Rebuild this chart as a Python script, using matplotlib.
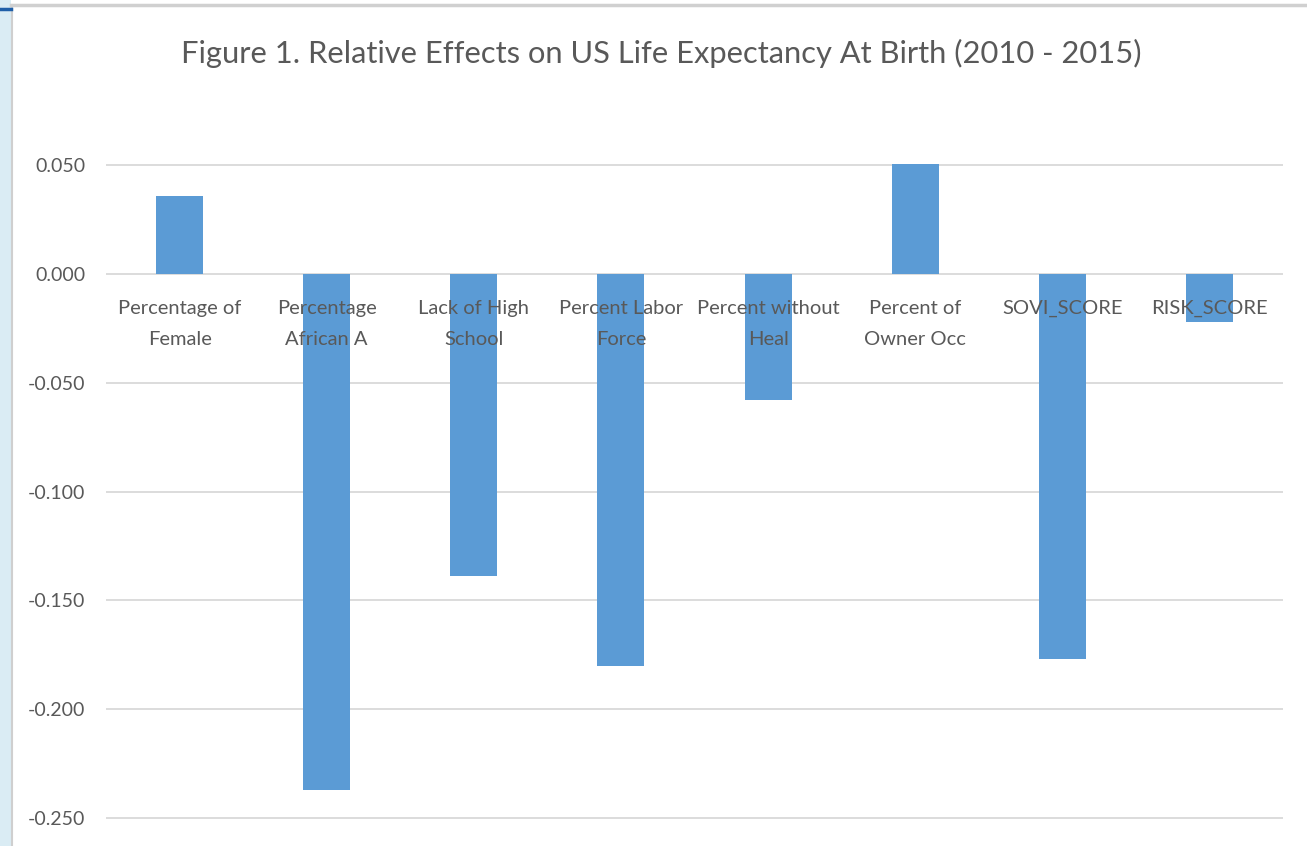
import matplotlib
matplotlib.use("Agg")
import matplotlib.pyplot as plt
from matplotlib.patches import Rectangle
from matplotlib.lines import Line2D

# effect of each county factor on life expectancy at birth
categories = [
    "Percentage of\nFemale",
    "Percentage\nAfrican A",
    "Lack of High\nSchool",
    "Percent Labor\nForce",
    "Percent without\nHeal",
    "Percent of\nOwner Occ",
    "SOVI_SCORE",
    "RISK_SCORE",
]
effects = [0.036, -0.237, -0.139, -0.180, -0.058, 0.051, -0.177, -0.022]
yticks = [0.05, 0.0, -0.05, -0.10, -0.15, -0.20, -0.25]

text_col = "#595959"
grid_col = "#D9D9D9"
bar_col = "#5B9BD5"

plt.rcParams["font.family"] = ["Lato", "DejaVu Sans"]

fig = plt.figure(figsize=(13.07, 8.46), dpi=100)

# window frame around the chart
fig.patches.append(Rectangle((0, 0), 11 / 1307, 1, transform=fig.transFigure,
                             facecolor="#DAECF4", edgecolor="none", zorder=0))
fig.lines.append(Line2D([11.5 / 1307, 11.5 / 1307], [0, 1 - 5 / 846], transform=fig.transFigure,
                        color="#CFCFCF", lw=1.5))
fig.lines.append(Line2D([11 / 1307, 1], [1 - 5 / 846, 1 - 5 / 846], transform=fig.transFigure,
                        color="#D0D0D0", lw=2.5))
fig.lines.append(Line2D([0, 11 / 1307], [1 - 9 / 846, 1 - 9 / 846], transform=fig.transFigure,
                        color="#1F5FA8", lw=2.5))

ax = fig.add_axes([106 / 1307, 27 / 846, 1177 / 1307, 655 / 846])
x = range(len(categories))
ax.bar(x, effects, width=0.32, color=bar_col, zorder=2)

ax.set_xlim(-0.5, len(categories) - 0.5)
ax.set_ylim(-0.2505, 0.0505)
ax.set_yticks(yticks)
ax.set_yticklabels([f"{v:.3f}" for v in yticks], color=text_col, fontsize=14)
ax.set_xticks([])
ax.tick_params(axis="y", length=0, pad=15)
for s in ax.spines.values():
    s.set_visible(False)
for v in yticks:
    ax.axhline(v, color=grid_col, lw=1.3, zorder=1)

# category names sit just under the zero line, over the bars
for i, name in enumerate(categories):
    ax.annotate(name, xy=(i, 0), xytext=(0, -18.5), textcoords="offset points",
                ha="center", va="top", fontsize=14.5, color=text_col,
                linespacing=2.05, zorder=3)

fig.text(661 / 1307, 1 - 53 / 846,
         "Figure 1. Relative Effects on US Life Expectancy At Birth (2010 - 2015)",
         ha="center", va="center", fontsize=22.2, color=text_col)

fig.savefig("out.png", dpi=100, facecolor="white")
